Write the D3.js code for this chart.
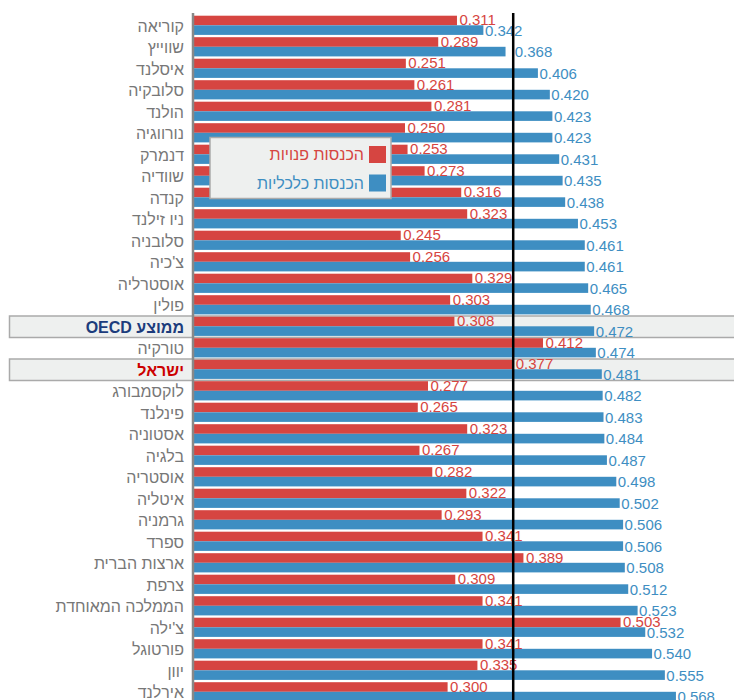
<!DOCTYPE html>
<html>
<head>
<meta charset="utf-8">
<script src="https://cdn.jsdelivr.net/npm/d3@7"></script>
<style>
  body { margin: 0; background: #fff; }
  svg { display: block; font-family: Arial, "Liberation Sans", sans-serif; }
</style>
</head>
<body>
<svg width="734" height="700"></svg>
<script>
// countries, top to bottom
let countries = ["קוריאה", "שווייץ", "איסלנד", "סלובקיה", "הולנד", "נורווגיה", "דנמרק",
  "שוודיה", "קנדה", "ניו זילנד", "סלובניה", "צ'כיה", "אוסטרליה", "פולין", "ממוצע OECD",
  "טורקיה", "ישראל", "לוקסמבורג", "פינלנד", "אסטוניה", "בלגיה", "אוסטריה", "איטליה",
  "גרמניה", "ספרד", "ארצות הברית", "צרפת", "הממלכה המאוחדת", "צ'ילה", "פורטוגל", "יוון", "אירלנד"];

// disposable income gini
let disposable = [0.311, 0.289, 0.251, 0.261, 0.281, 0.250, 0.253, 0.273, 0.316, 0.323,
  0.245, 0.256, 0.329, 0.303, 0.308, 0.412, 0.377, 0.277, 0.265, 0.323, 0.267, 0.282,
  0.322, 0.293, 0.341, 0.389, 0.309, 0.341, 0.503, 0.341, 0.335, 0.300];

// market income gini
let market = [0.342, 0.368, 0.406, 0.420, 0.423, 0.423, 0.431, 0.435, 0.438, 0.453,
  0.461, 0.461, 0.465, 0.468, 0.472, 0.474, 0.481, 0.482, 0.483, 0.484, 0.487, 0.498,
  0.502, 0.506, 0.506, 0.508, 0.512, 0.523, 0.532, 0.540, 0.555, 0.568];

let seriesNames = ["הכנסות פנויות", "הכנסות כלכליות"];
let refCountry = "ישראל";
let avgCountry = "ממוצע OECD";

let red = "#d64541";
let blue = "#3e8ec2";
let rtl = function(s){ return "\u202B" + s + "\u202C"; };

let svg = d3.select("svg");

let x = d3.scaleLinear()
    .domain([0, 0.64])
    .range([192, 192 + 0.64 * 852]);

let y = d3.scaleBand()
    .domain(countries)
    .range([14.5, 14.5 + countries.length * 21.5])
    .padding(0);

let barH = 9.6;
let barTop = 1.2;

// highlight rows
svg.selectAll("rect.hl")
  .data([avgCountry, refCountry])
  .enter()
  .append("rect")
    .attr("class", "hl")
    .attr("x", 9.5)
    .attr("y", function(d){ return y(d) + 0.5; })
    .attr("width", 740)
    .attr("height", y.bandwidth())
    .style("fill", "#eef0ef")
    .style("stroke", "#aaa")
    .style("stroke-width", 1.5);

let rows = countries.map(function(c, i){
  return {name: c, d: disposable[i], m: market[i]};
});

let refX = x(disposable[countries.indexOf(refCountry)]);

// red bars
svg.selectAll("rect.red")
  .data(rows)
  .enter()
  .append("rect")
    .attr("class", "red")
    .attr("x", x(0))
    .attr("y", function(d){ return y(d.name) + barTop; })
    .attr("width", function(d){ return x(d.d) - x(0); })
    .attr("height", barH)
    .style("fill", red);

// blue bars
svg.selectAll("rect.blue")
  .data(rows)
  .enter()
  .append("rect")
    .attr("class", "blue")
    .attr("x", x(0))
    .attr("y", function(d){ return y(d.name) + barTop + barH; })
    .attr("width", function(d){ return x(d.m) - x(0); })
    .attr("height", barH)
    .style("fill", blue);

function labelX(v, off){
  let lx = x(v) + off;
  // keep labels from starting right under the reference line
  if(lx > refX - 8 && lx < refX) lx = refX + 1.5;
  return lx;
}

svg.selectAll("text.rv")
  .data(rows)
  .enter()
  .append("text")
    .attr("class", "rv")
    .attr("x", function(d){ return labelX(d.d, 2.5); })
    .attr("y", function(d){ return y(d.name) + 10.5; })
    .style("font-size", "15px")
    .style("fill", red)
    .text(function(d){ return d.d.toFixed(3); });

svg.selectAll("text.bv")
  .data(rows)
  .enter()
  .append("text")
    .attr("class", "bv")
    .attr("x", function(d){ return labelX(d.m, 1.5); })
    .attr("y", function(d){ return y(d.name) + 21.3; })
    .style("font-size", "15px")
    .style("fill", blue)
    .text(function(d){ return d.m.toFixed(3); });

// country labels
svg.selectAll("text.cat")
  .data(countries)
  .enter()
  .append("text")
    .attr("class", "cat")
    .attr("x", 184)
    .attr("y", function(d){ return y(d) + 17; })
    .attr("text-anchor", "end")
    .style("font-size", "16px")
    .style("font-weight", function(d){ return (d == avgCountry || d == refCountry) ? "bold" : "normal"; })
    .style("fill", function(d){
      if(d == avgCountry) return "#1c3c7c";
      if(d == refCountry) return "#cc0000";
      return "#777";
    })
    .text(function(d){ return rtl(d); });

// reference line at israel's disposable income
svg.append("line")
  .attr("x1", refX).attr("x2", refX)
  .attr("y1", 13).attr("y2", 700)
  .style("stroke", "#000")
  .style("stroke-width", 2.5);

// axis line
svg.append("line")
  .attr("x1", 193).attr("x2", 193)
  .attr("y1", 13).attr("y2", 700)
  .style("stroke", "#888")
  .style("stroke-width", 2.5);

// legend
let legend = svg.append("g");
legend.append("rect")
  .attr("x", 210).attr("y", 137.5)
  .attr("width", 181).attr("height", 61)
  .style("fill", "#eef0ef")
  .style("stroke", "#aaa")
  .style("stroke-width", 1.5);

[red, blue].forEach(function(c, i){
  legend.append("rect")
    .attr("x", 369).attr("y", 146 + i * 28.5)
    .attr("width", 17).attr("height", 17)
    .style("fill", c);
  legend.append("text")
    .attr("x", 364).attr("y", 160 + i * 28.5)
    .attr("text-anchor", "end")
    .style("font-size", "16px")
    .style("fill", c)
    .text(rtl(seriesNames[i]));
});
</script>
</body>
</html>
